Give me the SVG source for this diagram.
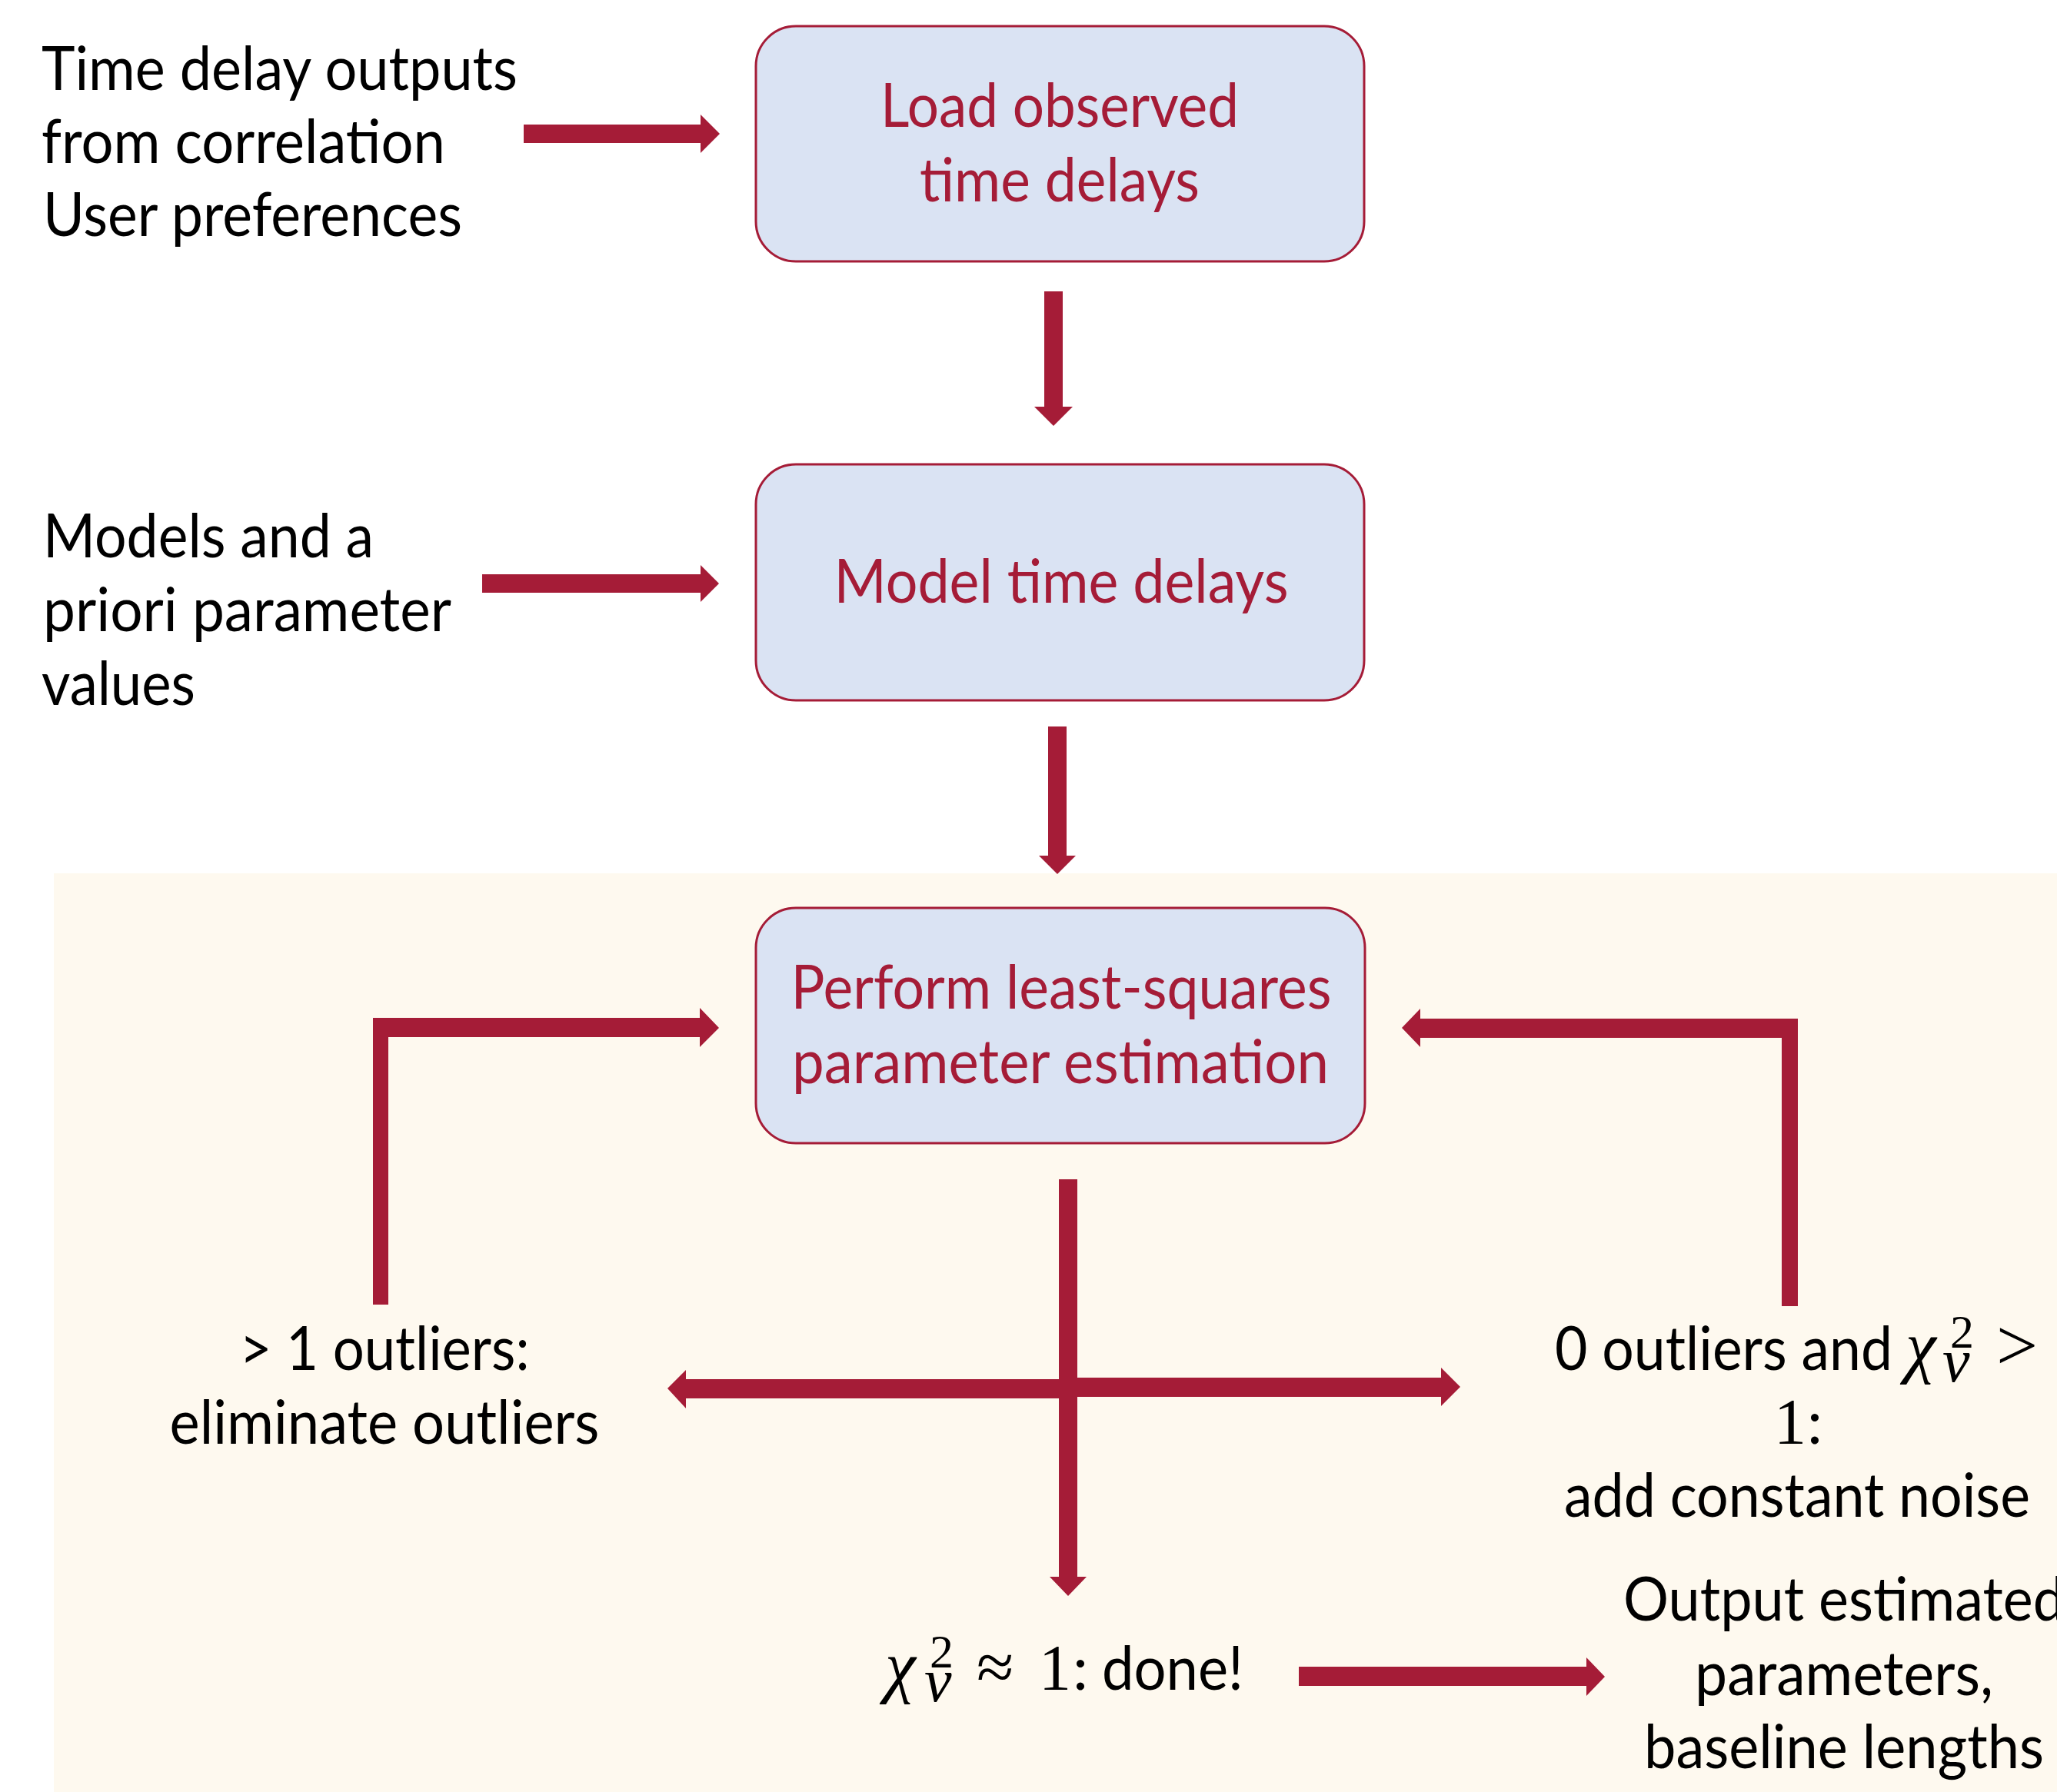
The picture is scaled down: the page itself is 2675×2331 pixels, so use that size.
<svg xmlns="http://www.w3.org/2000/svg" width="2675" height="2331" viewBox="0 0 2675 2331">
<style>
.t{font-family:Lato,"Open Sans","DejaVu Sans",sans-serif;font-size:80px;fill:#000}
.r{font-family:Lato,"Open Sans","DejaVu Sans",sans-serif;font-size:80px;fill:#A51C37;text-anchor:middle}
.c{text-anchor:middle}
.mi{font-family:"Liberation Serif","DejaVu Serif",serif;font-style:italic;font-size:90px;fill:#000}
.n{font-style:normal}
.sup{font-style:normal;font-size:62px}
.sub{font-size:80px}
.big{font-style:normal;font-size:84px}
.box{fill:#DAE3F3;stroke:#A51C37;stroke-width:3}
.arr{fill:#A51C37}
</style>
<rect x="0" y="0" width="2675" height="2331" fill="#FFFFFF"/>
<rect id="panel" x="70" y="1136" width="2605" height="1195" fill="#FEF9EF"/>
<g id="connectors">
<polygon class="arr" points="681,162 911,162 911,149 936,174 911,199 911,186 681,186"/>
<polygon class="arr" points="627,747 911,747 911,735 935,759 911,783 911,771 627,771"/>
<polygon class="arr" points="1358,379 1382,379 1382,529 1395,529 1370,554 1345,529 1358,529"/>
<polygon class="arr" points="1363,945 1387,945 1387,1113 1399,1113 1375,1137 1351,1113 1363,1113"/>
<polygon class="arr" points="485,1697 485,1324 910,1324 910,1311 935,1337 910,1362 910,1349 505,1349 505,1697"/>
<polygon class="arr" points="2338,1699 2338,1325 1847,1325 1847,1312 1823,1337 1847,1362 1847,1350 2317,1350 2317,1699"/>
<polygon class="arr" points="1377,1534 1401,1534 1401,2051 1413,2051 1389,2076 1365,2051 1377,2051"/>
<polygon class="arr" points="1389,1792 1874,1792 1874,1779 1899,1804 1874,1829 1874,1817 1389,1817"/>
<polygon class="arr" points="1389,1794 892,1794 892,1782 868,1806 892,1832 892,1819 1389,1819"/>
<polygon class="arr" points="1689,2168 2063,2168 2063,2156 2087,2181 2063,2206 2063,2193 1689,2193"/>
</g>
<g id="input-timedelays">
<text class="t" x="54" y="117" textLength="619" lengthAdjust="spacingAndGlyphs">Time delay outputs</text>
<text class="t" x="54" y="212" textLength="525" lengthAdjust="spacingAndGlyphs">from correlation</text>
<text class="t" x="56" y="307" textLength="545" lengthAdjust="spacingAndGlyphs">User preferences</text>
</g>
<g id="input-models">
<text class="t" x="56" y="725" textLength="430" lengthAdjust="spacingAndGlyphs">Models and a</text>
<text class="t" x="56" y="821" textLength="531" lengthAdjust="spacingAndGlyphs">priori parameter</text>
<text class="t" x="54" y="917" textLength="200" lengthAdjust="spacingAndGlyphs">values</text>
</g>
<g id="load">
<rect class="box" x="983" y="34" width="791" height="306" rx="52"/>
<text class="r" x="1378" y="165" textLength="466" lengthAdjust="spacingAndGlyphs">Load observed</text>
<text class="r" x="1378" y="262" textLength="364" lengthAdjust="spacingAndGlyphs">time delays</text>
</g>
<g id="model">
<rect class="box" x="983" y="604" width="791" height="307" rx="52"/>
<text class="r" x="1380" y="784" textLength="591" lengthAdjust="spacingAndGlyphs">Model time delays</text>
</g>
<g id="estimate">
<rect class="box" x="983" y="1181" width="792" height="306" rx="52"/>
<text class="r" x="1380" y="1312" textLength="703" lengthAdjust="spacingAndGlyphs">Perform least-squares</text>
<text class="r" x="1379" y="1409" textLength="698" lengthAdjust="spacingAndGlyphs">parameter estimation</text>
</g>
<g id="outliers">
<text class="t c" x="500" y="1782" textLength="377" lengthAdjust="spacingAndGlyphs">&gt; 1 outliers:</text>
<text class="t c" x="500" y="1878" textLength="559" lengthAdjust="spacingAndGlyphs">eliminate outliers</text>
</g>
<g id="noise">
<text class="t" x="2022" y="1782" textLength="439" lengthAdjust="spacingAndGlyphs">0 outliers and</text>
<text class="mi"><tspan x="2478" y="1782">χ</tspan><tspan class="sup" x="2536" y="1753">2</tspan><tspan class="sub" x="2526" y="1797">ν</tspan><tspan class="n" x="2596" y="1782" style="font-size:96px">&gt;</tspan><tspan class="big" x="2307" y="1878">1</tspan></text>
<text class="t" x="2350" y="1878">:</text>
<text class="t c" x="2337" y="1973" textLength="606" lengthAdjust="spacingAndGlyphs">add constant noise</text>
</g>
<g id="done">
<text class="mi"><tspan x="1151" y="2198">χ</tspan><tspan class="sup" x="1209" y="2169">2</tspan><tspan class="sub" x="1202" y="2213">ν</tspan><tspan class="n" x="1270" y="2198" style="font-size:88px">≈</tspan><tspan class="big" x="1351" y="2198">1</tspan></text>
<text class="t" x="1395" y="2198">:</text>
<text class="t" x="1433" y="2198" textLength="184" lengthAdjust="spacingAndGlyphs">done!</text>
</g>
<g id="output">
<text class="t c" x="2398" y="2108" textLength="574" lengthAdjust="spacingAndGlyphs">Output estimated</text>
<text class="t c" x="2398" y="2205" textLength="388" lengthAdjust="spacingAndGlyphs">parameters,</text>
<text class="t c" x="2398" y="2300" textLength="520" lengthAdjust="spacingAndGlyphs">baseline lengths</text>
</g>
</svg>
